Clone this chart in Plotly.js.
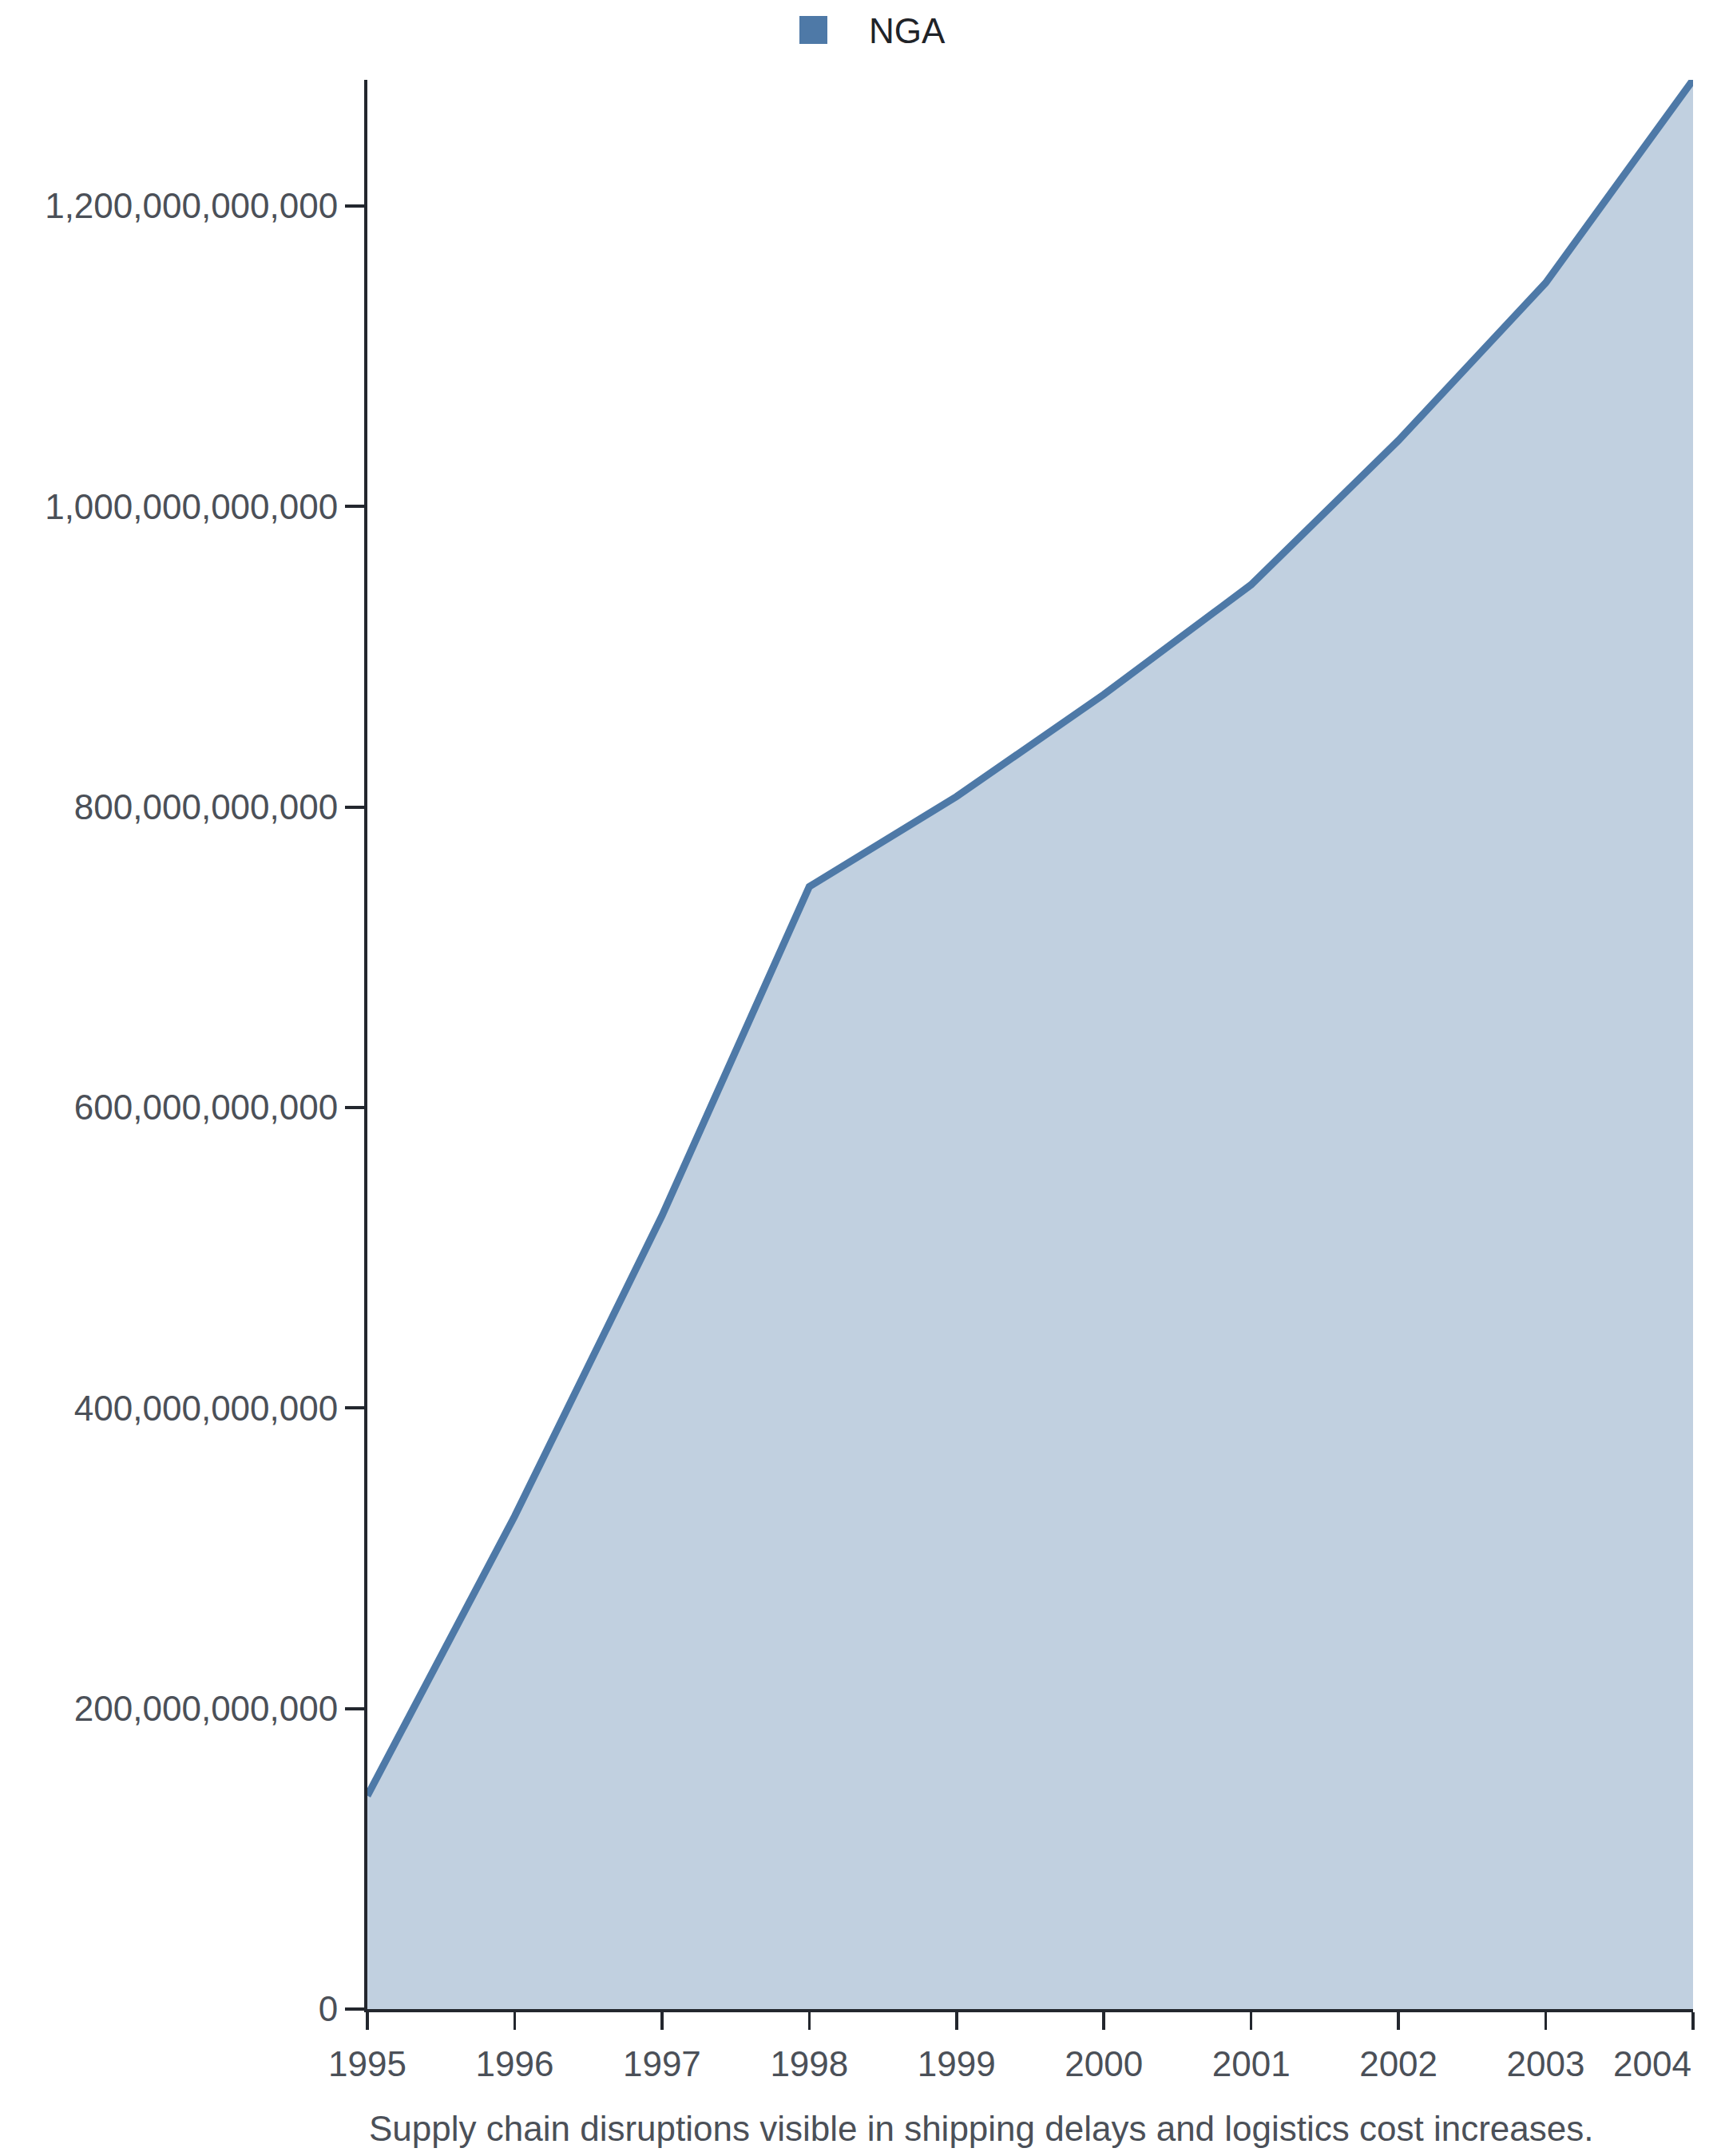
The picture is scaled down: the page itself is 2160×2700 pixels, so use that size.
<!DOCTYPE html>
<html>
<head>
<meta charset="utf-8">
<script src="https://cdn.plot.ly/plotly-3.0.1.min.js"></script>
<style>
  html, body { margin: 0; padding: 0; background: #ffffff; }
  #chart { width: 2160px; height: 2700px; }
</style>
</head>
<body>
<div id="chart"></div>
<script>
// ---- data ----
const seriesName = "NGA";
const years = [1995, 1996, 1997, 1998, 1999, 2000, 2001, 2002, 2003, 2004];
const values = [142e9, 328e9, 528e9, 747e9, 807e9, 875e9, 948e9, 1044e9, 1149e9, 1284e9];
const yTickVals = [0, 200e9, 400e9, 600e9, 800e9, 1000e9, 1200e9];
const caption = "Supply chain disruptions visible in shipping delays and logistics cost increases.";

// ---- style ----
const lineColor = "#4e79a7";
const fillColor = "rgba(78,121,167,0.35)";
const axisColor = "#23272e";
const tickFontColor = "#4b5058";
const fontFamily = "'Liberation Sans', Arial, sans-serif";

const W = 2160, H = 2700;
const M = { l: 460, r: 40, t: 100, b: 184 };
const plotW = W - M.l - M.r;
const plotH = H - M.t - M.b;
const px2paperX = (px) => (px - M.l) / plotW;
const px2paperY = (py) => 1 - (py - M.t) / plotH;

const trace = {
  type: "scatter",
  mode: "lines",
  x: years,
  y: values,
  name: seriesName,
  fill: "tozeroy",
  fillcolor: fillColor,
  line: { color: lineColor, width: 9 },
  showlegend: false,
  hoverinfo: "x+y"
};

const lastYear = years[years.length - 1];
const xTickText = years.map((y, i) => (i === years.length - 1 ? "" : String(y)));

const layout = {
  width: W,
  height: H,
  margin: M,
  paper_bgcolor: "#ffffff",
  plot_bgcolor: "#ffffff",
  font: { family: fontFamily, color: tickFontColor, size: 44 },
  showlegend: false,
  xaxis: {
    range: [years[0], lastYear],
    tickvals: years,
    ticktext: xTickText,
    showgrid: false,
    zeroline: false,
    showline: true,
    linecolor: axisColor,
    linewidth: 4,
    ticks: "outside",
    ticklen: 22,
    tickwidth: 3.5,
    tickcolor: axisColor,
    ticklabelstandoff: 5,
    tickfont: { size: 44, color: tickFontColor, family: fontFamily },
    fixedrange: true
  },
  yaxis: {
    range: [0, Math.max(...values)],
    tickvals: yTickVals,
    tickformat: ",.0f",
    showgrid: false,
    zeroline: false,
    showline: true,
    linecolor: axisColor,
    linewidth: 4,
    ticks: "outside",
    ticklen: 24,
    tickwidth: 4,
    tickcolor: axisColor,
    tickfont: { size: 44, color: tickFontColor, family: fontFamily },
    fixedrange: true
  },
  shapes: [
    {
      type: "rect",
      xref: "paper", yref: "paper",
      x0: px2paperX(1001), x1: px2paperX(1036),
      y0: px2paperY(55), y1: px2paperY(20),
      fillcolor: lineColor,
      line: { width: 0 }
    }
  ],
  annotations: [
    {
      text: seriesName,
      xref: "paper", yref: "paper",
      x: px2paperX(1086), y: px2paperY(38),
      xanchor: "left", yanchor: "middle",
      showarrow: false,
      font: { size: 44, color: "#1f2328", family: fontFamily }
    },
    {
      text: String(lastYear),
      xref: "x", yref: "paper",
      x: lastYear, y: px2paperY(2584),
      xanchor: "right", yanchor: "middle",
      showarrow: false,
      font: { size: 44, color: tickFontColor, family: fontFamily }
    },
    {
      text: caption,
      xref: "paper", yref: "paper",
      x: 0, y: px2paperY(2665),
      xanchor: "left", yanchor: "middle",
      showarrow: false,
      font: { size: 44, color: tickFontColor, family: fontFamily }
    }
  ]
};

Plotly.newPlot("chart", [trace], layout, { displayModeBar: false, staticPlot: true });
</script>
</body>
</html>
